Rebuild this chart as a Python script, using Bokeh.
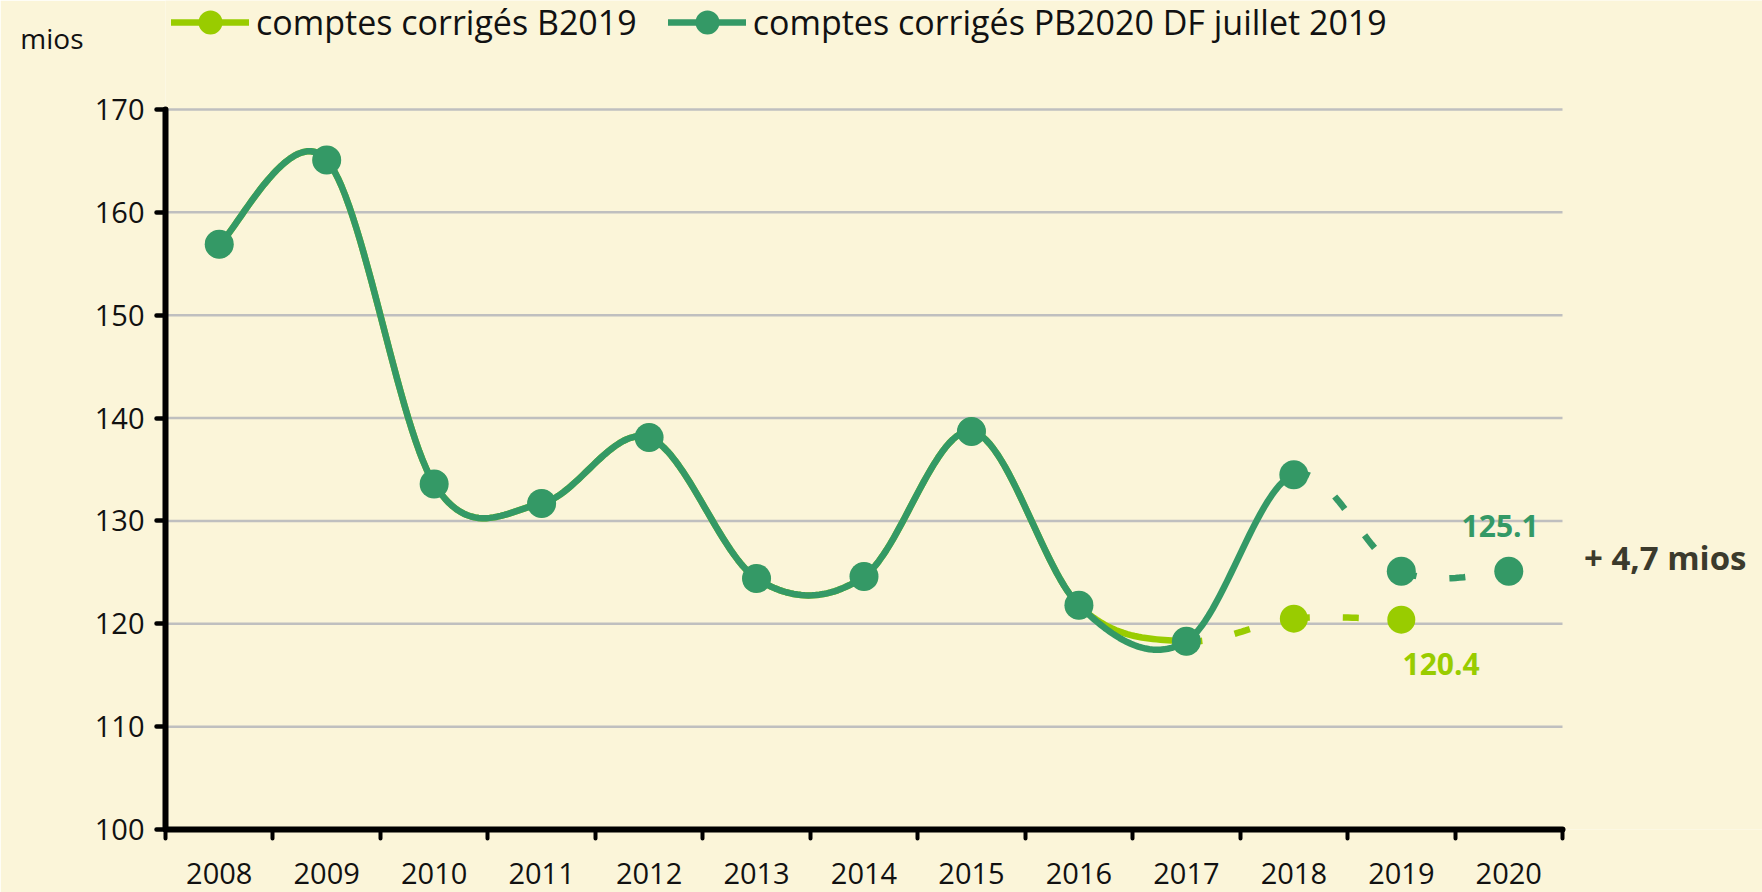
import numpy as np
from bokeh.plotting import figure
from bokeh.models import Range1d, FixedTicker, Legend, LegendItem, Label, LinearAxis
from bokeh.embed import file_html
from bokeh.resources import INLINE

# ---------------- data ----------------
years = ["2008", "2009", "2010", "2011", "2012", "2013", "2014",
         "2015", "2016", "2017", "2018", "2019", "2020"]
pb2020 = [156.9, 165.1, 133.6, 131.7, 138.1, 124.4, 124.6,
          138.7, 121.8, 118.3, 134.5, 125.1, 125.1]
b2019 = [156.9, 165.1, 133.6, 131.7, 138.1, 124.4, 124.6,
         138.7, 121.8, 118.3, 120.5, 120.4]
y_ticks = [100, 110, 120, 130, 140, 150, 160, 170]
name_b2019 = "comptes corrigés B2019"
name_pb2020 = "comptes corrigés PB2020 DF juillet 2019"
last_pb2020 = "125.1"
last_b2019 = "120.4"
gap_text = "+ 4,7 mios"
unit_text = "mios"

# ---------------- style ----------------
BG = "#FBF5D9"
DARK = "#349966"
LIGHT = "#99CC00"
FONT = "Open Sans"
W, H = 1762, 892
FRAME_L, FRAME_R_AXIS, FRAME_T_AXIS, FRAME_B = 165, 1562, 109, 829


def smooth(xs, ys, i, n=30):
    """Excel-like smoothed segment (cubic Bezier, Catmull-Rom controls) from point i to i+1."""
    N = len(xs)
    p0 = np.array([xs[i], ys[i]], float)
    p3 = np.array([xs[i + 1], ys[i + 1]], float)
    pm = np.array([xs[max(i - 1, 0)], ys[max(i - 1, 0)]], float)
    pp = np.array([xs[min(i + 2, N - 1)], ys[min(i + 2, N - 1)]], float)
    c1 = p0 + (p3 - pm) / 6.0
    c2 = p3 - (pp - p0) / 6.0
    t = np.linspace(0, 1, n)[:, None]
    pts = (1 - t) ** 3 * p0 + 3 * (1 - t) ** 2 * t * c1 + 3 * (1 - t) * t ** 2 * c2 + t ** 3 * p3
    return list(pts[:, 0]), list(pts[:, 1])


def smooth_run(xs, ys, a, b):
    X, Y = [], []
    for i in range(a, b):
        sx, sy = smooth(xs, ys, i)
        if X:
            sx, sy = sx[1:], sy[1:]
        X += sx
        Y += sy
    return X, Y


xd = list(range(len(pb2020)))
xl = list(range(len(b2019)))
x_lo, x_hi = -0.5, len(years) - 0.5
y_lo, y_hi = y_ticks[0], y_ticks[-1]

# the frame reaches the top and right edges of the picture, so that the legend
# and the notes outside the axes box are not clipped
px_x = (FRAME_R_AXIS - FRAME_L) / (x_hi - x_lo)
px_y = (FRAME_B - FRAME_T_AXIS) / (y_hi - y_lo)
x_end = x_hi + (W - FRAME_R_AXIS) / px_x
y_end = y_hi + FRAME_T_AXIS / px_y

p = figure(width=W, height=H,
           x_range=Range1d(x_lo, x_end), y_range=Range1d(y_lo, y_end),
           output_backend="svg", toolbar_location=None,
           min_border_left=FRAME_L, min_border_right=0,
           min_border_top=0, min_border_bottom=H - FRAME_B,
           background_fill_color=BG, border_fill_color=BG,
           outline_line_color=None)
p.xgrid.visible = False
p.ygrid.visible = False

# horizontal grid lines, limited to the axes box
gy = y_ticks[1:]
p.segment(x0=[x_lo] * len(gy), x1=[x_hi] * len(gy), y0=gy, y1=gy,
          line_color="#BFBFBF", line_width=2.5)

# light series (B2019)
lx, ly = smooth_run(xl, b2019, 0, 9)
r_light_line = p.line(lx, ly, line_color=LIGHT, line_width=6.5, line_cap="round", line_join="round")
for i in (9, 10):
    sx, sy = smooth(xl, b2019, i)
    p.line(sx, sy, line_color=LIGHT, line_width=6.5, line_dash="16 33", line_cap="butt")
r_light_pts = p.scatter(xl, b2019, size=28, fill_color=LIGHT, line_color=None)

# dark series (PB2020)
dx, dy = smooth_run(xd, pb2020, 0, 10)
r_dark_line = p.line(dx, dy, line_color=DARK, line_width=6.5, line_cap="round", line_join="round")
for i in (10, 11):
    sx, sy = smooth(xd, pb2020, i)
    p.line(sx, sy, line_color=DARK, line_width=6.5, line_dash="16 33", line_cap="butt")
r_dark_pts = p.scatter(xd, pb2020, size=29, fill_color=DARK, line_color=None)

# axes
p.yaxis.ticker = FixedTicker(ticks=y_ticks)
p.yaxis.bounds = (y_lo, y_hi)
p.yaxis.axis_line_width = 6
p.yaxis.axis_line_cap = "round"
p.yaxis.major_tick_out = 9
p.yaxis.major_tick_in = 0
p.yaxis.major_tick_line_width = 4.5
p.yaxis.major_tick_line_cap = "round"
p.yaxis.minor_tick_line_color = None
p.yaxis.major_label_text_font = FONT
p.yaxis.major_label_text_font_size = "29px"
p.yaxis.major_label_text_color = "#111111"
p.yaxis.major_label_standoff = 12

p.xaxis.ticker = FixedTicker(ticks=xd, minor_ticks=[i - 0.5 for i in range(len(years) + 1)])
p.xaxis.bounds = (x_lo, x_hi)
p.xaxis.major_label_overrides = {i: years[i] for i in xd}
p.xaxis.axis_line_width = 6
p.xaxis.axis_line_cap = "round"
p.xaxis.major_tick_out = 0
p.xaxis.major_tick_in = 0
p.xaxis.minor_tick_out = 9
p.xaxis.minor_tick_in = 0
p.xaxis.minor_tick_line_width = 4
p.xaxis.minor_tick_line_color = "black"
p.xaxis.minor_tick_line_cap = "round"
p.xaxis.major_label_text_font = FONT
p.xaxis.major_label_text_font_size = "29px"
p.xaxis.major_label_text_color = "#111111"
p.xaxis.major_label_standoff = 24

# unit text "mios" at the top-left, as the only label of an extra left axis
unit_axis = LinearAxis(ticker=FixedTicker(ticks=[177]), major_label_overrides={177: unit_text},
                       axis_line_color=None, major_tick_line_color=None, minor_tick_line_color=None,
                       major_tick_out=0, major_tick_in=0, major_label_standoff=8,
                       major_label_text_font=FONT, major_label_text_font_size="28px",
                       major_label_text_color="#111111")
p.add_layout(unit_axis, "left")

# legend (location = bottom-left corner of the legend box, measured from the frame's bottom-left)
LEG_H = 60
legend = Legend(items=[LegendItem(label=name_b2019, renderers=[r_light_line, r_light_pts]),
                       LegendItem(label=name_pb2020, renderers=[r_dark_line, r_dark_pts])],
                location=(6, FRAME_B - (LEG_H - 8)), orientation="horizontal",
                glyph_width=78, glyph_height=LEG_H, label_standoff=7, spacing=31,
                padding=0, margin=0, background_fill_alpha=0, border_line_alpha=0,
                label_text_font=FONT, label_text_font_size="34px", label_text_color="#111111")
p.add_layout(legend)

# annotations
p.add_layout(Label(x=11.92, y=129.5, text=last_pb2020, text_font=FONT, text_font_size="30px",
                   text_font_style="bold", text_color=DARK, text_align="center", text_baseline="middle"))
p.add_layout(Label(x=11.37, y=116.1, text=last_b2019, text_font=FONT, text_font_size="30px",
                   text_font_style="bold", text_color=LIGHT, text_align="center", text_baseline="middle"))
p.add_layout(Label(x=12.7, y=126.4, text=gap_text, text_font=FONT, text_font_size="33px",
                   text_font_style="bold", text_color="#3B3A2C", text_align="left", text_baseline="middle"))

open("out.html", "w").write(file_html(p, INLINE))
